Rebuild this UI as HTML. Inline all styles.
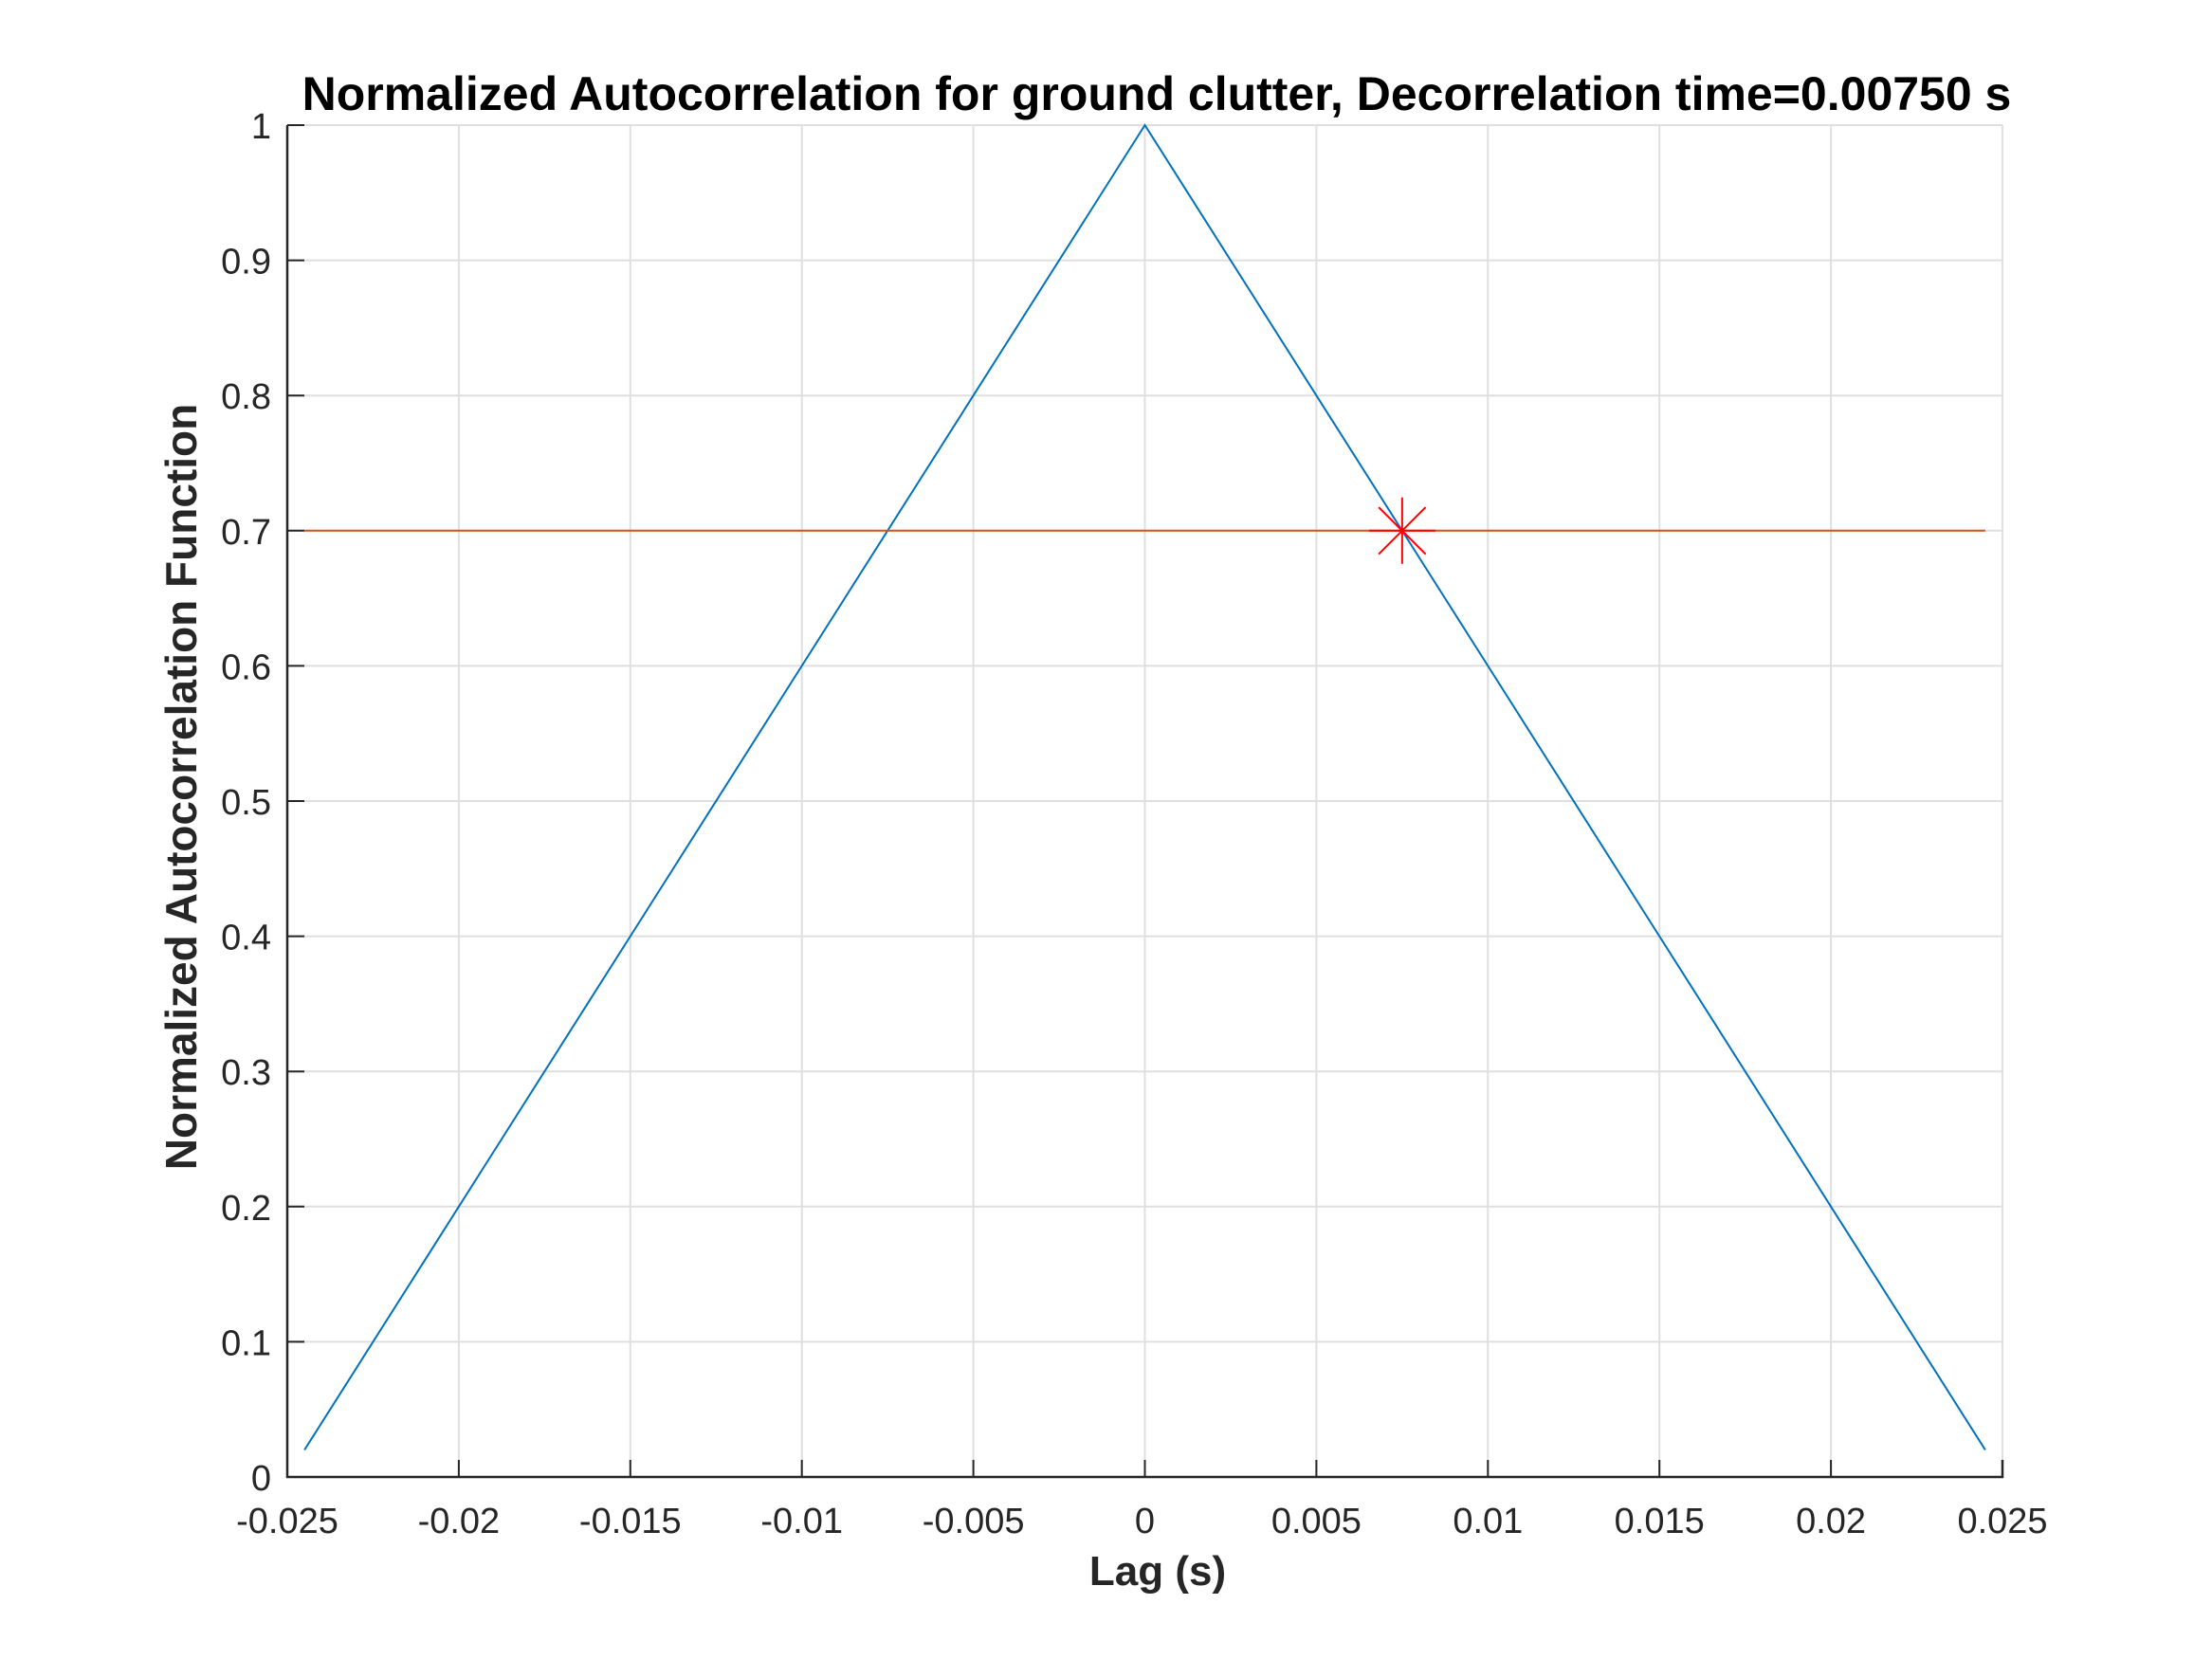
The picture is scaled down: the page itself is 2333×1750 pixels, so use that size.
<!DOCTYPE html>
<html><head><meta charset="utf-8"><style>
html,body{margin:0;padding:0;background:#fff;}
svg{display:block;font-family:"Liberation Sans",Arial,sans-serif;}
</style></head><body>
<svg id="chart" width="2333" height="1750" viewBox="0 0 2333 1750">
<rect width="2333" height="1750" fill="#fff"/>
<g id="grid"></g>
<g id="series"></g>
<g id="axes"></g>
<text x="1220" y="116" font-size="50" font-weight="bold" text-anchor="middle" fill="#000">Normalized Autocorrelation for ground clutter, Decorrelation time=0.00750 s</text>
<text x="1221" y="1672" font-size="44" font-weight="bold" text-anchor="middle" fill="#262626">Lag (s)</text>
<text x="0" y="0" font-size="46" font-weight="bold" text-anchor="middle" fill="#262626" transform="translate(207,830) rotate(-90)">Normalized Autocorrelation Function</text>
</svg>
<script>
const xTicks = [-0.025,-0.02,-0.015,-0.01,-0.005,0,0.005,0.01,0.015,0.02,0.025];
const xTickLabels = ["-0.025","-0.02","-0.015","-0.01","-0.005","0","0.005","0.01","0.015","0.02","0.025"];
const yTicks = [0,0.1,0.2,0.3,0.4,0.5,0.6,0.7,0.8,0.9,1];
const yTickLabels = ["0","0.1","0.2","0.3","0.4","0.5","0.6","0.7","0.8","0.9","1"];
const lags = [-0.0245,-0.02,-0.015,-0.01,-0.005,0,0.005,0.01,0.015,0.02,0.0245];
const acf = [0.02,0.2,0.4,0.6,0.8,1,0.8,0.6,0.4,0.2,0.02];
const thresholdLags = [-0.0245,0.0245];
const thresholdValue = [0.7,0.7];
const markerLag = [0.0075];
const markerValue = [0.7];

const L=303,R=2112,T=132,B=1558;
const xs=v=>L+(v-(-0.025))/0.05*(R-L);
const ys=v=>B-v*(B-T);
const NS='http://www.w3.org/2000/svg';
function mk(tag,attrs,parent){const e=document.createElementNS(NS,tag);for(const k in attrs)e.setAttribute(k,attrs[k]);parent.appendChild(e);return e;}
const grid=document.getElementById('grid'),axes=document.getElementById('axes'),series=document.getElementById('series');
xTicks.forEach((t,i)=>{
  const g=mk('line',{x1:xs(t),x2:xs(t),y1:T,y2:B,stroke:'#dfdfdf','stroke-width':2},grid);
  
  
  const tk=mk('line',{x1:xs(t),x2:xs(t),y1:B,y2:B-18,stroke:'#262626','stroke-width':2},axes);
  
  
  const lb=mk('text',{x:xs(t),y:1617,'font-size':38,'text-anchor':'middle',fill:'#262626'},axes);
  lb.textContent=xTickLabels[i];
  
  
});
yTicks.forEach((t,i)=>{
  const g=mk('line',{x1:L,x2:R,y1:ys(t),y2:ys(t),stroke:'#dfdfdf','stroke-width':2},grid);
  
  
  const tk=mk('line',{x1:L,x2:L+18,y1:ys(t),y2:ys(t),stroke:'#262626','stroke-width':2},axes);
  
  
  const lb=mk('text',{x:286,y:ys(t)+14,'font-size':38,'text-anchor':'end',fill:'#262626'},axes);
  lb.textContent=yTickLabels[i];
  
  
});
const ax=mk('path',{d:`M${L},${T} L${L},${B} L${R},${B} L${R},${B-18}`,fill:'none',stroke:'#262626','stroke-width':2.5},axes);



const acfLine=mk('polyline',{points:lags.map((v,i)=>xs(v)+','+ys(acf[i])).join(' '),fill:'none',stroke:'#0072bd','stroke-width':2},series);


const thr=mk('polyline',{points:thresholdLags.map((v,i)=>xs(v)+','+ys(thresholdValue[i])).join(' '),fill:'none',stroke:'#d95319','stroke-width':2},series);


markerLag.forEach((v,i)=>{
  const cx=xs(v),cy=ys(markerValue[i]),r=35,d=r*0.707;
  const m=mk('path',{d:`M${cx-r},${cy} L${cx+r},${cy} M${cx},${cy-r} L${cx},${cy+r} M${cx-d},${cy-d} L${cx+d},${cy+d} M${cx-d},${cy+d} L${cx+d},${cy-d}`,stroke:'#ff0000','stroke-width':2,fill:'none'},series);
  
  
});
</script>
</body></html>
